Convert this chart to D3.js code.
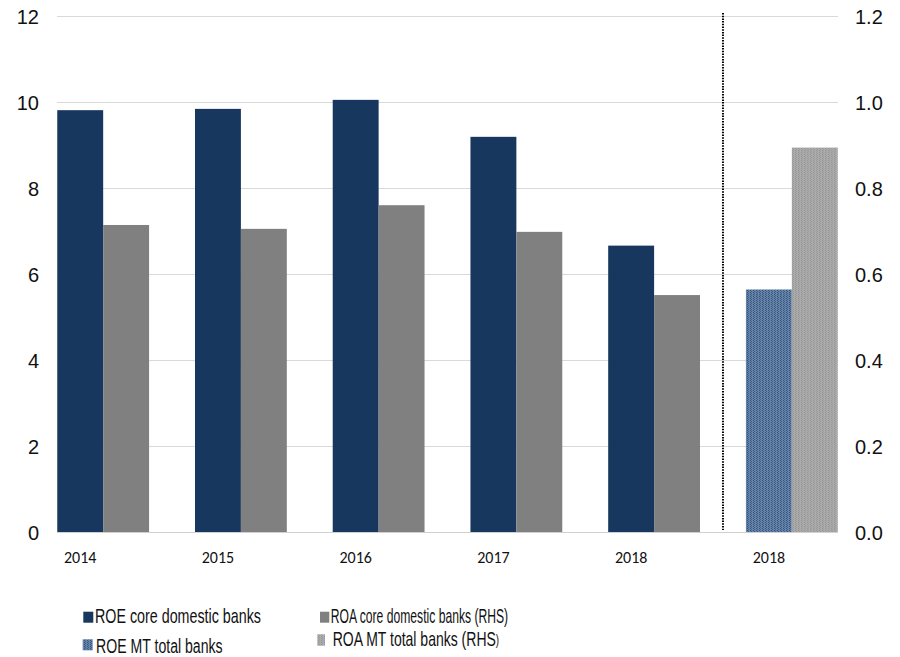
<!DOCTYPE html>
<html>
<head>
<meta charset="utf-8">
<script src="https://cdn.jsdelivr.net/npm/d3@7"></script>
<style>
  html, body { margin: 0; padding: 0; background: #fff; }
  svg { display: block; }
</style>
</head>
<body>
<svg id="chart" width="900" height="657"></svg>
<script>
// ---- data ----
const categories = ["c2014", "c2015", "c2016", "c2017", "c2018", "mt2018"];
const categoryLabels = ["2014", "2015", "2016", "2017", "2018", "2018"];
const groups = ["core", "core", "core", "core", "core", "mt"];
const roeValues = [9.81, 9.84, 10.05, 9.19, 6.66, 5.64];   // left axis, %
const roaValues = [0.714, 0.705, 0.760, 0.698, 0.551, 0.894]; // right axis (RHS), %
const leftTicks = [0, 2, 4, 6, 8, 10, 12];
const rightTicks = [0, 0.2, 0.4, 0.6, 0.8, 1.0, 1.2];
const legendItems = [
  { key: "roeCore", label: "ROE core domestic banks", tail: "" },
  { key: "roaCore", label: "ROA core domestic banks (RHS)", tail: "" },
  { key: "roeMT", label: "ROE MT total banks", tail: "" },
  { key: "roaMT", label: "ROA MT total banks (RHS", tail: ")" }
];

// ---- setup ----
const svg = d3.select("#chart");
const plotLeft = 57, plotRight = 838, plotTop = 16, plotBottom = 532;

const x = d3.scaleBand()
  .domain(categories)
  .range([34.3, 860.7])
  .paddingInner(1 / 3)
  .paddingOuter(1 / 6);
const yL = d3.scaleLinear().domain([0, 12]).range([plotBottom, plotTop]);
const yR = d3.scaleLinear().domain([0, 1.2]).range([plotBottom, plotTop]);
const half = x.bandwidth() / 2;

// patterns
const defs = svg.append("defs");
const pBlue = defs.append("pattern").attr("id", "patBlue")
  .attr("patternUnits", "userSpaceOnUse").attr("width", 3).attr("height", 2);
pBlue.append("rect").attr("width", 3).attr("height", 2).attr("fill", "#6582a8");
pBlue.append("rect").attr("x", 0).attr("width", 1).attr("height", 1).attr("fill", "#34547c");
pBlue.append("rect").attr("x", 1).attr("y", 1).attr("width", 1).attr("height", 1).attr("fill", "#3e5e86");

const pGray = defs.append("pattern").attr("id", "patGray")
  .attr("patternUnits", "userSpaceOnUse").attr("width", 3).attr("height", 2);
pGray.append("rect").attr("width", 3).attr("height", 2).attr("fill", "#ababab");
pGray.append("rect").attr("x", 0).attr("width", 1).attr("height", 1).attr("fill", "#959595");
pGray.append("rect").attr("x", 1).attr("y", 1).attr("width", 1).attr("height", 1).attr("fill", "#9b9b9b");

const fills = {
  roeCore: "#17375e",
  roaCore: "#808080",
  roeMT: "url(#patBlue)",
  roaMT: "url(#patGray)"
};

// gridlines
svg.append("g").selectAll("line")
  .data(leftTicks.filter(d => d > 0))
  .join("line")
  .attr("x1", plotLeft).attr("x2", plotRight)
  .attr("y1", d => Math.round(yL(d)) + 0.5).attr("y2", d => Math.round(yL(d)) + 0.5)
  .attr("stroke", "#d9d9d9").attr("stroke-width", 1);

// bars
const data = categories.map((c, i) => ({ c, g: groups[i], roe: roeValues[i], roa: roaValues[i] }));
svg.append("g").selectAll("rect")
  .data(data)
  .join("rect")
  .attr("x", d => x(d.c))
  .attr("width", half)
  .attr("y", d => yL(d.roe))
  .attr("height", d => yL(0) - yL(d.roe))
  .attr("fill", d => d.g === "core" ? fills.roeCore : fills.roeMT);
svg.append("g").selectAll("rect")
  .data(data)
  .join("rect")
  .attr("x", d => x(d.c) + half)
  .attr("width", half)
  .attr("y", d => yR(d.roa))
  .attr("height", d => yR(0) - yR(d.roa))
  .attr("fill", d => d.g === "core" ? fills.roaCore : fills.roaMT);

// baseline
svg.append("line")
  .attr("x1", plotLeft).attr("x2", plotRight)
  .attr("y1", plotBottom + 0.5).attr("y2", plotBottom + 0.5)
  .attr("stroke", "#d0d0d0").attr("stroke-width", 1);

// dotted separator
const sepX = (x("c2018") + x.bandwidth() + x("mt2018")) / 2;
svg.append("line")
  .attr("x1", sepX).attr("x2", sepX)
  .attr("y1", 13).attr("y2", 530)
  .attr("stroke", "#000").attr("stroke-width", 2)
  .attr("stroke-dasharray", "1.5,1.2");

// left axis
const leftAxis = d3.axisLeft(yL).tickValues(leftTicks).tickSize(0).tickPadding(0).tickFormat(d3.format("d"));
const gL = svg.append("g").attr("transform", "translate(39,0)").call(leftAxis);
gL.select(".domain").remove();
gL.selectAll("text")
  .attr("font-family", "Arial, 'Liberation Sans', sans-serif")
  .attr("font-size", 20).attr("fill", "#111").attr("dy", "0.35em");

// right axis
const rightAxis = d3.axisRight(yR).tickValues(rightTicks).tickSize(0).tickPadding(0).tickFormat(d3.format(".1f"));
const gR = svg.append("g").attr("transform", "translate(855,0)").call(rightAxis);
gR.select(".domain").remove();
gR.selectAll("text")
  .attr("font-family", "Arial, 'Liberation Sans', sans-serif")
  .attr("font-size", 20).attr("fill", "#111").attr("dy", "0.35em");

// category labels (centered under the ROE bar)
svg.append("g").selectAll("text")
  .data(categories)
  .join("text")
  .attr("x", d => x(d) + half / 2)
  .attr("y", 563)
  .attr("text-anchor", "middle")
  .attr("font-family", "Carlito, Calibri, 'Liberation Sans', Arial, sans-serif")
  .attr("font-size", 16).attr("fill", "#111")
  .text((d, i) => categoryLabels[i]);

// legend
const legendLayout = [
  { sx: 83.3, sy: 611.7, sw: 10, sh: 11, tx: 95, ty: 623.3, tl: 166 },
  { sx: 320, sy: 611.7, sw: 9.3, sh: 11, tx: 330.7, ty: 623.3, tl: 177.6 },
  { sx: 82.7, sy: 639.3, sw: 10, sh: 11, tx: 96, ty: 652.5, tl: 126.7 },
  { sx: 317.3, sy: 634.3, sw: 7.7, sh: 11.4, tx: 332.7, ty: 645.7, tl: 166.6 }
];
const lg = svg.append("g");
legendItems.forEach((item, i) => {
  const L = legendLayout[i];
  lg.append("rect").attr("x", L.sx).attr("y", L.sy).attr("width", L.sw).attr("height", L.sh)
    .attr("fill", fills[item.key]);
  const t = lg.append("text")
    .attr("font-family", "Arial, 'Liberation Sans', sans-serif")
    .attr("font-size", 20).attr("fill", "#111");
  t.append("tspan").text(item.label);
  if (item.tail) t.append("tspan").attr("font-size", 14).attr("dy", -0.5).text(item.tail);
  const w = t.node().getComputedTextLength();
  t.attr("transform", `translate(${L.tx},${L.ty}) scale(${L.tl / w},1)`);
});
</script>
</body>
</html>
